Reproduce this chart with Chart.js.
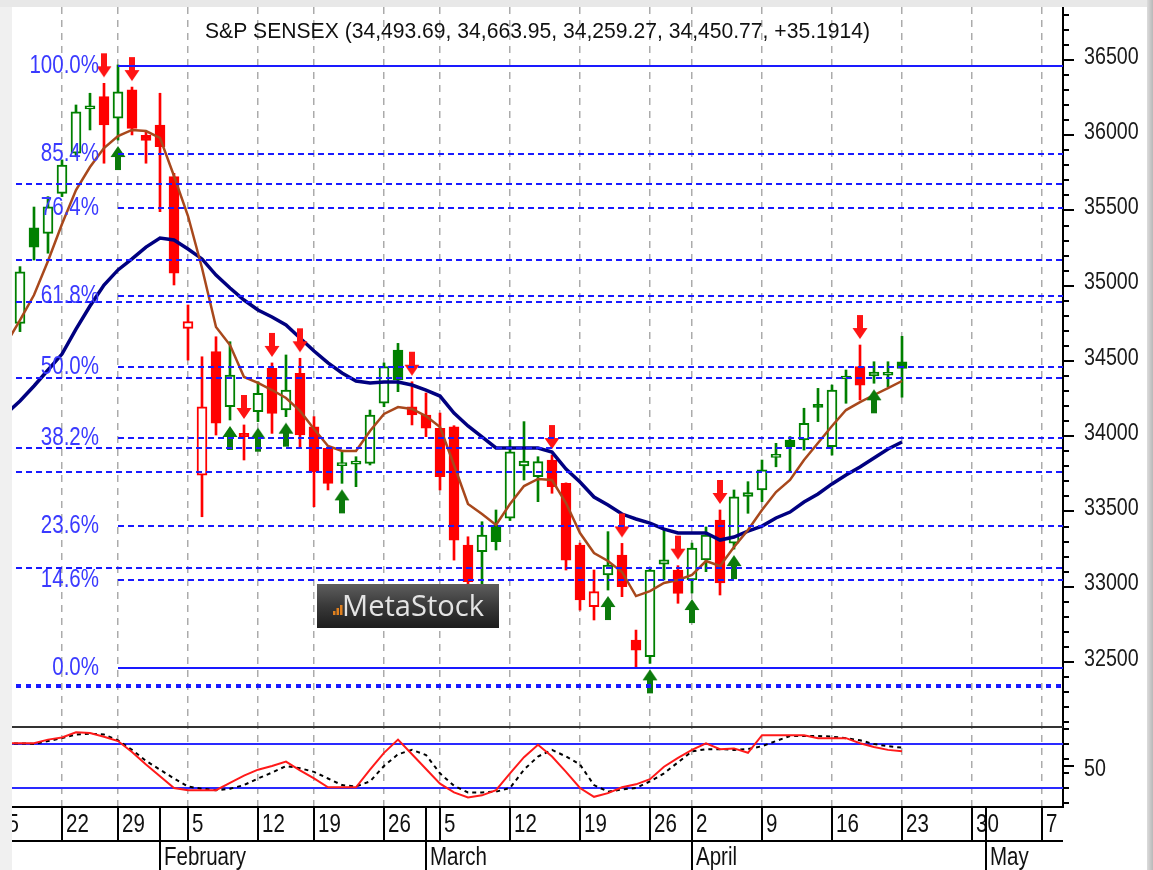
<!DOCTYPE html>
<html>
<head>
<meta charset="utf-8">
<title>S&amp;P SENSEX</title>
<script src="https://cdn.jsdelivr.net/npm/chart.js@4.4.1/dist/chart.umd.min.js"></script>
<style>
  html, body { margin: 0; padding: 0; background: #fff; overflow: hidden; }
</style>
</head>
<body>
<canvas id="sensex" width="1153" height="870"></canvas>
<script>
// setup: one entry per trading day, index 0 = 17 Jan 2018 ... 63 = 23 Apr 2018
const opens = [34750, 35384, 35348, 35614, 35880, 36175, 36256, 36113, 36301, 36000,
  36068, 35725, 34717, 33742, 34562, 34196, 34019, 34163, 34451, 34174,
  34418, 34063, 33920, 33805, 33815, 33820, 34219, 34573, 34196, 34141,
  34053, 34063, 33277, 33233, 33410, 33455, 33802, 33731, 33842, 33687,
  33277, 32867, 33078, 33211, 32646, 32535, 33150, 33111, 33045, 33178,
  33443, 33289, 33600, 33643, 33860, 33975, 33975, 34205, 33930, 34380,
  34462, 34400, 34405, 34493.69];
const highs = [35127, 35523, 35592, 35836, 36201, 36279, 36345, 36467, 36320, 36024,
  36279, 35747, 34872, 34528, 34661, 34628, 34075, 34362, 34487, 34540,
  34518, 34130, 33930, 33897, 33864, 34174, 34487, 34617, 34362, 34287,
  34154, 34070, 33332, 33432, 33510, 33975, 34097, 33864, 33875, 33690,
  33290, 33111, 33366, 33288, 32712, 33124, 33377, 33140, 33290, 33397,
  33510, 33643, 33698, 33842, 33953, 33997, 34186, 34318, 34340, 34440,
  34606, 34495, 34495, 34663.95];
const lows = [34695, 35171, 35216, 35592, 35857, 36035, 35814, 35968, 36002, 35814,
  35492, 35005, 34506, 33465, 34008, 34108, 33842, 34097, 34019, 34130,
  33930, 33532, 33643, 33687, 33665, 33809, 34196, 34296, 34075, 33997,
  33643, 33177, 32990, 33010, 33244, 33440, 33709, 33565, 33621, 33111,
  32845, 32779, 32978, 32934, 32466, 32491, 33045, 32890, 32958, 33100,
  32945, 33250, 33488, 33565, 33797, 33764, 33908, 34097, 33875, 34219,
  34241, 34352, 34329, 34259.27];
const closes = [35093, 35257, 35525, 35802, 36156, 36190, 36068, 36289, 36046, 35965,
  35924, 35083, 34761, 34196, 34086, 34407, 33997, 34285, 34152, 34307,
  34008, 33764, 33687, 33825, 33835, 34141, 34462, 34374, 34141, 34053,
  33731, 33310, 33033, 33344, 33299, 33897, 33835, 33831, 33665, 33177,
  32912, 32967, 33144, 33000, 32579, 33111, 33178, 32956, 33257, 33344,
  33025, 33598, 33626, 33776, 33880, 33930, 34086, 34192, 34307, 34395,
  34340, 34427, 34420, 34450.77];
// expert trend of each bar: 1 up, -1 down
const trend = [1, 1, 1, 1, 1, 1, -1, 1, -1, -1,
  -1, -1, -1, -1, -1, 1, -1, 1, -1, 1,
  -1, -1, -1, 1, 1, 1, 1, 1, -1, -1,
  -1, -1, -1, 1, 1, 1, 1, 1, -1, -1,
  -1, -1, 1, -1, -1, 1, 1, -1, 1, 1,
  -1, 1, 1, 1, 1, 1, 1, 1, 1, 1,
  -1, 1, 1, 1];

// indicators start one day earlier (index -1 = 16 Jan)
const maFast = [34613, 34772, 34938, 35164, 35410, 35636, 35789, 35915, 35995, 36035, 36028,
  35982, 35729, 35463, 35118, 34726, 34606, 34394, 34354, 34307, 34254,
  34168, 34048, 33935, 33902, 33902, 34035, 34148, 34194, 34181, 34134,
  34061, 33809, 33550, 33483, 33410, 33550, 33669, 33716, 33709, 33556,
  33357, 33224, 33171, 33098, 32938, 32971, 33025, 33045, 33078, 33171,
  33138, 33264, 33377, 33510, 33629, 33709, 33842, 33955, 34068, 34174,
  34227, 34274, 34320, 34367];
const maSlow = [34148, 34234, 34334, 34440, 34546, 34712, 34865, 35005, 35105, 35178, 35257,
  35317, 35304, 35244, 35178, 35071, 34985, 34905, 34839, 34792, 34739,
  34653, 34566, 34487, 34420, 34367, 34354, 34360, 34360, 34340, 34307,
  34267, 34154, 34068, 33995, 33922, 33922, 33922, 33922, 33895, 33782,
  33696, 33596, 33543, 33483, 33450, 33423, 33383, 33357, 33357, 33357,
  33310, 33330, 33370, 33403, 33457, 33496, 33563, 33616, 33683, 33742,
  33795, 33855, 33915, 33962];
const stochK = [81, 81, 81, 86, 89, 96, 95, 90, 84, 69, 52,
  36, 20, 17, 17, 17, 27, 37, 45, 50, 56,
  44, 33, 21, 21, 21, 45, 68, 86, 66, 46,
  26, 14, 7, 10, 17, 40, 62, 79, 63, 42,
  20, 8, 13, 21, 25, 32, 49, 61, 72, 81,
  73, 74, 68, 92, 92, 92, 92, 88, 88, 88,
  81, 76, 72, 70];
const stochD = [80, 81, 80, 84, 88, 93, 94, 93, 85, 72, 57,
  45, 33, 22, 19, 17, 19, 24, 33, 41, 50,
  47, 42, 33, 24, 22, 29, 50, 66, 72, 65,
  40, 23, 14, 14, 15, 20, 45, 63, 72, 63,
  52, 24, 15, 18, 20, 29, 40, 55, 70, 73,
  73, 72, 73, 77, 84, 91, 91, 91, 90, 88,
  85, 80, 77, 75];

const buySignals = [7, 15, 17, 19, 23, 42, 45, 48, 51, 61];
const sellSignals = [6, 8, 16, 18, 20, 28, 38, 43, 47, 50, 60];

// axes
const priceTicks = [32500, 33000, 33500, 34000, 34500, 35000, 35500, 36000, 36500];
const stochTicks = [50];
const stochBands = [80, 20];
const dayTicks = [-2, 3, 7, 12, 17, 21, 26, 30, 35, 40, 45, 48, 53, 58, 63, 68, 73];
const dayLabels = ['15', '22', '29', '5', '12', '19', '26', '5', '12', '19', '26', '2', '9', '16', '23', '30', '7'];
const monthStarts = [10, 29, 48, 69];
const monthNames = ['February', 'March', 'April', 'May'];

// fibonacci retracements
const fibHigh = 36462, fibLow = 32462, fibFrom = 7;
const fibRatios = [1, 0.854, 0.764, 0.618, 0.5, 0.382, 0.236, 0.146, 0];
const fibLevels2 = [35676, 35171, 34894, 34385, 33920, 33764, 33123];
const fibFloor = 32343;

const title = 'S&P SENSEX (34,493.69, 34,663.95, 34,259.27, 34,450.77, +35.1914)';

const GREEN = '#008000';
const RED = '#ff0000';
const BLUE = '#1a1aff';

// helpers
const hasNarrow = (() => {
  const c = document.createElement('canvas').getContext('2d');
  c.font = '40px "Liberation Sans Narrow", monospace';
  const w = c.measureText('abcdefgMW0').width;
  c.font = '40px monospace';
  return Math.abs(w - c.measureText('abcdefgMW0').width) > 1;
})();

function narrowText(ctx, text, x, y, size, align, color) {
  ctx.save();
  ctx.fillStyle = color;
  ctx.textBaseline = 'middle';
  ctx.textAlign = align;
  if (hasNarrow) {
    ctx.font = size + 'px "Liberation Sans Narrow"';
    ctx.fillText(text, x, y);
  } else {
    ctx.font = size + 'px "Liberation Sans", Arial, sans-serif';
    ctx.translate(x, y);
    ctx.scale(0.82, 1);
    ctx.fillText(text, 0, 0);
  }
  ctx.restore();
}

function fittedText(ctx, text, cx, cy, font, width, color) {
  ctx.save();
  ctx.font = font;
  ctx.fillStyle = color;
  ctx.textBaseline = 'middle';
  ctx.textAlign = 'center';
  const w = ctx.measureText(text).width;
  ctx.translate(cx, cy);
  ctx.scale(width / w, 1);
  ctx.fillText(text, 0, 0);
  ctx.restore();
}

function hline(ctx, x1, x2, py) {
  ctx.beginPath();
  ctx.moveTo(x1, py);
  ctx.lineTo(x2, py);
  ctx.stroke();
}

function vline(ctx, px, y1, y2) {
  ctx.beginPath();
  ctx.moveTo(px, y1);
  ctx.lineTo(px, y2);
  ctx.stroke();
}

// signal arrow drawn in one half of a tall sprite, so it sits off the high / low
function arrowImage(color, down) {
  const c = document.createElement('canvas');
  c.width = 16;
  c.height = 64;
  const g = c.getContext('2d');
  g.fillStyle = color;
  g.beginPath();
  if (down) {
    g.moveTo(5, 2); g.lineTo(11, 2); g.lineTo(11, 15); g.lineTo(15.5, 15);
    g.lineTo(8, 26); g.lineTo(0.5, 15); g.lineTo(5, 15);
  } else {
    g.moveTo(8, 38); g.lineTo(15.5, 49); g.lineTo(11, 49); g.lineTo(11, 62);
    g.lineTo(5, 62); g.lineTo(5, 49); g.lineTo(0.5, 49);
  }
  g.closePath();
  g.fill();
  return c;
}

const colorOf = i => trend[i] > 0 ? GREEN : RED;
const bars = opens.map((o, i) => i);
const fromDayBefore = arr => arr.map((v, k) => ({ x: k - 1, y: v }));

// MetaStock look: fib lines, panel lines, axis text, logo
const metastockLook = {
  id: 'metastockLook',
  beforeDraw(chart) {
    const { ctx, width, height } = chart;
    ctx.save();
    ctx.fillStyle = '#ffffff';
    ctx.fillRect(0, 0, width, height);
    ctx.restore();
  },
  beforeDatasetsDraw(chart) {
    const { ctx, chartArea: a, scales: { y2 } } = chart;
    ctx.save();
    ctx.lineWidth = 2;
    ctx.strokeStyle = '#2a2aff';
    stochBands.forEach(v => hline(ctx, a.left, a.right, Math.round(y2.getPixelForValue(v))));
    ctx.strokeStyle = '#333';
    hline(ctx, a.left, a.right, Math.round(y2.top));
    ctx.restore();
  },
  afterDatasetsDraw(chart) {
    const { ctx, chartArea: a, scales: { x, y } } = chart;
    ctx.save();
    ctx.beginPath();
    ctx.rect(a.left, y.top, a.right - a.left, y.bottom - y.top);
    ctx.clip();
    ctx.strokeStyle = BLUE;
    ctx.lineWidth = 2;
    ctx.setLineDash([6, 4]);
    fibLevels2.forEach(v => hline(ctx, a.left + 4, a.right, Math.round(y.getPixelForValue(v))));
    ctx.lineWidth = 4;
    ctx.setLineDash([5, 5]);
    hline(ctx, a.left + 4, a.right, Math.round(y.getPixelForValue(fibFloor)));
    const x0 = x.getPixelForValue(fibFrom);
    fibRatios.forEach(r => {
      const py = Math.round(y.getPixelForValue(fibLow + r * (fibHigh - fibLow)));
      ctx.lineWidth = 2;
      ctx.setLineDash(r === 1 || r === 0 ? [] : [6, 4]);
      hline(ctx, x0, a.right, py);
      narrowText(ctx, (r * 100).toFixed(1) + '%', x0 - 19, py, 25, 'right', '#3a3aff');
    });
    ctx.restore();

    // logo
    const lx = 317, ly = 584, lw = 182, lh = 44;
    ctx.save();
    const g = ctx.createLinearGradient(0, ly, 0, ly + lh);
    g.addColorStop(0, '#5e5e5e');
    g.addColorStop(0.5, '#393939');
    g.addColorStop(1, '#1d1d1d');
    ctx.fillStyle = g;
    ctx.fillRect(lx, ly, lw, lh);
    ctx.fillStyle = '#e0801e';
    [4, 7, 10].forEach((h, k) => ctx.fillRect(lx + 16 + k * 3.5, ly + 31 - h, 2.5, h));
    ctx.restore();
    fittedText(ctx, 'MetaStock', lx + 96, ly + lh / 2 + 1, '30px "Open Sans", sans-serif', 142, '#e4e4e4');

    // title
    fittedText(ctx, title, (a.left + a.right) / 2, a.top + 25, '22px "Liberation Sans", Arial, sans-serif', 665, '#111');
  },
  afterDraw(chart) {
    const { ctx, chartArea: a, scales: { x, y, y2 } } = chart;
    ctx.save();
    ctx.strokeStyle = '#000';
    ctx.lineWidth = 2;

    // price axis
    for (let v = Math.ceil(y.min / 100) * 100; v <= y.max; v += 100) {
      const py = Math.round(y.getPixelForValue(v));
      hline(ctx, a.right, a.right + (v % 500 === 0 ? 11 : 6), py);
    }
    priceTicks.forEach(v => narrowText(ctx, String(v), a.right + 21, y.getPixelForValue(v) - 3, 24, 'left', '#1a1a1a'));

    // stochastic axis
    [100, 80, 60, 40, 20, 0].forEach(v => hline(ctx, a.right, a.right + 6, Math.round(y2.getPixelForValue(v))));
    stochTicks.forEach(v => {
      hline(ctx, a.right, a.right + 11, Math.round(y2.getPixelForValue(v)));
      narrowText(ctx, String(v), a.right + 21, y2.getPixelForValue(v) + 3, 24, 'left', '#1a1a1a');
    });

    // date boxes
    const rowMid = x.top + 34;
    hline(ctx, 0, a.right, rowMid);
    dayTicks.forEach((d, k) => {
      const px = Math.round(x.getPixelForValue(d));
      vline(ctx, px, x.top, rowMid);
      narrowText(ctx, dayLabels[k], px + 4, x.top + 18, 25, 'left', '#111');
    });
    monthStarts.forEach((d, k) => {
      const px = Math.round(x.getPixelForValue(d));
      vline(ctx, px, x.top, chart.height);
      narrowText(ctx, monthNames[k], px + 4, rowMid + 17, 25, 'left', '#111');
    });

    // window shadow
    ctx.fillStyle = '#f0f0f0';
    ctx.fillRect(0, 0, a.left, chart.height);
    ctx.fillStyle = '#e8e8e8';
    ctx.fillRect(0, 0, chart.width, a.top);
    const sg = ctx.createLinearGradient(chart.width - 6, 0, chart.width, 0);
    sg.addColorStop(0, '#dcdcdc');
    sg.addColorStop(1, '#b8b8b8');
    ctx.fillStyle = sg;
    ctx.fillRect(chart.width - 6, 0, 6, chart.height);
    ctx.restore();
  }
};

// config
const config = {
  type: 'bar',
  data: {
    datasets: [
      {
        type: 'line',
        label: 'Sell',
        data: sellSignals.map(i => ({ x: i, y: highs[i] })),
        showLine: false,
        pointStyle: arrowImage('#ff1414', true),
        pointRadius: 6,
        order: 0
      },
      {
        type: 'line',
        label: 'Buy',
        data: buySignals.map(i => ({ x: i, y: lows[i] })),
        showLine: false,
        pointStyle: arrowImage('#0b7a0b', false),
        pointRadius: 6,
        order: 0
      },
      {
        type: 'line',
        label: 'Fast MA',
        data: fromDayBefore(maFast),
        borderColor: '#a8481c',
        borderWidth: 2.5,
        pointRadius: 0,
        order: 1
      },
      {
        type: 'line',
        label: 'Slow MA',
        data: fromDayBefore(maSlow),
        borderColor: '#000080',
        borderWidth: 3.5,
        pointRadius: 0,
        order: 1
      },
      {
        label: 'Body',
        data: bars.map(i => ({ x: i, y: [Math.min(opens[i], closes[i]), Math.max(opens[i], closes[i])] })),
        backgroundColor: bars.map(i => closes[i] > opens[i] ? '#ffffff' : colorOf(i)),
        borderColor: bars.map(colorOf),
        borderWidth: 2,
        borderSkipped: false,
        minBarLength: 3,
        barThickness: 10,
        grouped: false,
        order: 2
      },
      {
        label: 'Wick',
        data: bars.map(i => ({ x: i, y: [lows[i], highs[i]] })),
        backgroundColor: bars.map(colorOf),
        borderWidth: 0,
        barThickness: 2,
        grouped: false,
        order: 3
      },
      {
        type: 'line',
        label: '%K',
        data: fromDayBefore(stochK),
        yAxisID: 'y2',
        borderColor: '#ff1a1a',
        borderWidth: 2,
        pointRadius: 0,
        order: 1
      },
      {
        type: 'line',
        label: '%D',
        data: fromDayBefore(stochD),
        yAxisID: 'y2',
        borderColor: '#000000',
        borderWidth: 2,
        borderDash: [4, 4],
        pointRadius: 0,
        order: 1
      }
    ]
  },
  options: {
    responsive: false,
    animation: false,
    events: [],
    layout: { padding: { left: 12, top: 7, right: 6, bottom: 0 } },
    plugins: {
      legend: { display: false },
      tooltip: { enabled: false }
    },
    scales: {
      x: {
        type: 'linear',
        min: -8 / 14,
        max: 1043 / 14,
        offset: false,
        afterBuildTicks: s => { s.ticks = dayTicks.filter(v => v >= s.min && v <= s.max).map(v => ({ value: v })); },
        afterFit: s => { s.height = 63; },
        ticks: { display: false },
        grid: { offset: false, drawTicks: false, color: 'rgba(150,150,150,0.8)', lineWidth: 1.5 },
        border: { display: true, color: '#000', width: 2, dash: [7, 6] }
      },
      y: {
        type: 'linear',
        position: 'right',
        stack: 'panes',
        stackWeight: 720,
        min: 32068,
        max: 36852,
        afterFit: s => { s.width = 84; },
        ticks: { display: false },
        grid: { display: false },
        border: { display: true, color: '#000', width: 2 }
      },
      y2: {
        type: 'linear',
        position: 'right',
        stack: 'panes',
        stackWeight: 80,
        min: -5.9,
        max: 103.2,
        afterFit: s => { s.width = 84; },
        ticks: { display: false },
        grid: { display: false },
        border: { display: true, color: '#000', width: 2 }
      }
    }
  },
  plugins: [metastockLook]
};

// render init block
const sensexChart = new Chart(
  document.getElementById('sensex'),
  config
);
</script>
</body>
</html>
